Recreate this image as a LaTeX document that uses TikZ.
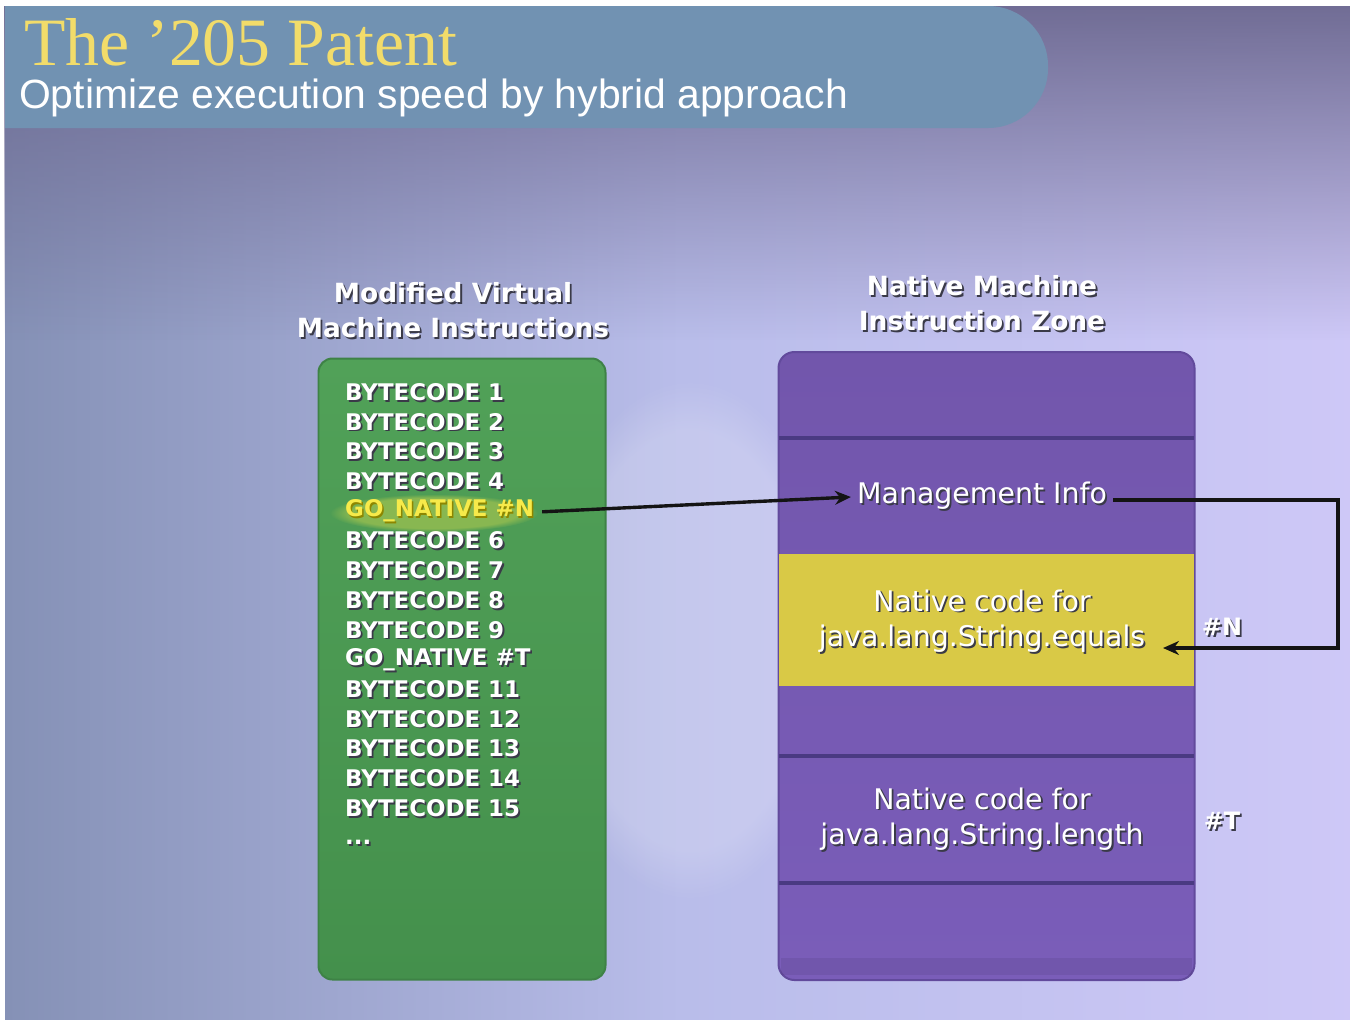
\documentclass[tikz,border=0pt]{standalone}
\usepackage{fontspec}
\setmainfont{DejaVu Sans}
\newfontfamily\titlefont{Liberation Serif}
\newfontfamily\subfont{Liberation Sans}
\usetikzlibrary{arrows.meta,fadings}

\definecolor{bgL}{HTML}{8591B6}
\definecolor{bgM}{HTML}{B9BDEA}
\definecolor{bgR}{HTML}{CEC8F7}
\definecolor{bgTop}{HTML}{6C6890}
\definecolor{bannerc}{HTML}{7192B2}
\definecolor{titleyel}{HTML}{F2DC6A}
\definecolor{vmgreenT}{HTML}{51A158}
\definecolor{vmgreenB}{HTML}{44904C}
\definecolor{vmedge}{HTML}{3E8246}
\definecolor{zoneT}{HTML}{7256AC}
\definecolor{zoneB}{HTML}{7A5DB9}
\definecolor{zoneedge}{HTML}{624A9C}
\definecolor{zoneline}{HTML}{4A3A82}
\definecolor{bandyel}{HTML}{D9C946}
\definecolor{gonat}{HTML}{F7EA4A}
\definecolor{shadowc}{HTML}{3A3A48}
\definecolor{connc}{HTML}{141414}

% white lettering with a small drop shadow
\newcommand\sh[1]{\leavevmode\rlap{\kern1.8pt\raisebox{-1.8pt}{\color{shadowc}#1}}#1}

\tikzset{
  codeline/.style={anchor=west, text=white, inner sep=0pt,
    font=\bfseries\fontsize{23}{23}\selectfont},
  heading/.style={text=white, align=center, inner sep=0pt,
    font=\bfseries\fontsize{26.5}{35}\selectfont},
  zonetext/.style={text=white, align=center, inner sep=6pt,
    font=\fontsize{28.5}{36}\selectfont},
  tag/.style={text=white, inner sep=0pt, font=\bfseries\fontsize{24}{24}\selectfont},
  conn/.style={draw=connc, line width=3.4pt, -{Stealth[length=16pt,width=14pt]}},
  sepline/.style={draw=zoneline, line width=3.5pt},
  glow/.style={path fading=circle with fuzzy edge 20 percent},
}

\begin{document}
\begin{tikzpicture}[x=1bp,y=-1bp]
\useasboundingbox (0,0) rectangle (1350,1019);
\fill[white] (0,0) rectangle (1350,1019);

% backdrop
\shade[left color=bgL, right color=bgR, middle color=bgM] (5,6) rectangle (1360,1030);
\fill[bgTop, path fading=south, opacity=0.95] (5,6) rectangle (1360,340);
\fill[white, opacity=0.18, glow] (690,640) ellipse (150 and 260);

% title banner
\begin{scope}
  \clip (5,0) rectangle (1350,1019);
  \fill[bannerc] (-150,6) [rounded corners=60] -- (1048,6) -- (1048,128) [sharp corners] -- (-150,128) -- cycle;
\end{scope}
\node[anchor=base west, inner sep=0pt, text=titleyel,
  font=\titlefont\fontsize{68}{68}\selectfont] (title) at (24,65) {The ’205 Patent};
\node[anchor=base west, inner sep=0pt, text=white,
  font=\subfont\fontsize{41}{41}\selectfont] (subtitle) at (19,108)
  {Optimize execution speed by hybrid approach};

% modified virtual machine instructions
\node[heading] (vmhead) at (453,311) {\sh{Modified Virtual}\\\sh{Machine Instructions}};
\node[draw=vmedge, line width=2pt, top color=vmgreenT, bottom color=vmgreenB,
  rounded corners=14, minimum width=287bp, minimum height=621bp] (vm) at (462,669) {};

\foreach \i in {1,2,3,4,6,7,8,9,11,12,13,14,15}
  \node[codeline] (bc\i) at (345,{363.3+29.7*\i}) {\sh{BYTECODE \i}};
\fill[gonat, opacity=0.35, glow] (434,513) ellipse (104 and 19);
\node[codeline, text=gonat] (bc5) at (345,{363.3+29.7*5})
  {\leavevmode\rlap{\kern1.5pt\raisebox{-1.5pt}{\color{olive}GO\_NATIVE \#N}}GO\_NATIVE \#N};
\node[codeline] (bc10) at (345,{363.3+29.7*10}) {\sh{GO\_NATIVE \#T}};
\node[codeline] (more) at (345,843) {\sh{...}};

% native machine instruction zone
\node[heading] (nzhead) at (982,304) {\sh{Native Machine}\\\sh{Instruction Zone}};
\node[draw=zoneedge, line width=2pt, top color=zoneT, bottom color=zoneB,
  rounded corners=16, minimum width=416bp, minimum height=628bp] (nz) at (986.5,666) {};
\fill[bandyel] (779,554) rectangle (1194,686);
\fill[zoneT!70!black, opacity=0.2] (781,958) rectangle (1192,975);
\draw[sepline] (779,438) -- (1194,438);
\draw[sepline] (779,756) -- (1194,756);
\draw[sepline] (779,883) -- (1194,883);

\node[zonetext] (mi) at (982,497) {\sh{Management Info}};
\node[zonetext] (eq) at (982,622) {\sh{Native code for}\\\sh{java.lang.String.equals}};
\node[zonetext] (len) at (982,820) {\sh{Native code for}\\\sh{java.lang.String.length}};
\node[tag] (tagN) at (1222,628) {\sh{\#N}};
\node[tag] (tagT) at (1222,822) {\sh{\#T}};

% connectors
\coordinate (gostart) at ([xshift=8bp]bc5.east);
\coordinate (turnA) at (1338,500);
\coordinate (turnB) at (1338,648);
\coordinate (eqin) at (1163,648);
\draw[conn] (gostart) -- (mi.west);
\draw[conn] (mi.east |- turnA) -- (turnA) -- (turnB) -- (eqin);
\end{tikzpicture}
\end{document}
